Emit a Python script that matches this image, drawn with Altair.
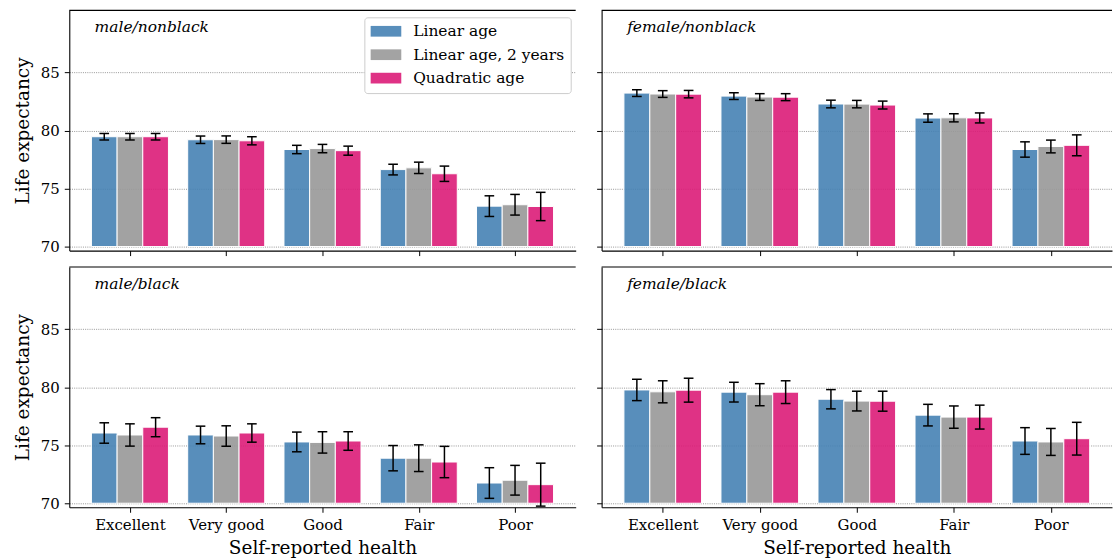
import altair as alt
import pandas as pd

# Categories, models and panel names
categories = ["Excellent", "Very good", "Good", "Fair", "Poor"]
models = ["Linear age", "Linear age, 2 years", "Quadratic age"]
colors = ["#4682b4", "#999999", "#dc1c78"]
panels = ["male/nonblack", "female/nonblack", "male/black", "female/black"]

# Life expectancy estimates and error half-widths, per panel and model
mn_linear = [79.46, 79.20, 78.36, 76.63, 73.48]
mn_linear_err = [0.28, 0.32, 0.36, 0.46, 0.89]
mn_2yr = [79.46, 79.21, 78.44, 76.78, 73.60]
mn_2yr_err = [0.28, 0.32, 0.36, 0.49, 0.89]
mn_quad = [79.46, 79.11, 78.26, 76.27, 73.45]
mn_quad_err = [0.28, 0.35, 0.39, 0.66, 1.22]

fn_linear = [83.22, 82.96, 82.28, 81.07, 78.36]
fn_linear_err = [0.29, 0.29, 0.33, 0.36, 0.66]
fn_2yr = [83.14, 82.88, 82.27, 81.09, 78.62]
fn_2yr_err = [0.29, 0.29, 0.32, 0.35, 0.55]
fn_quad = [83.13, 82.87, 82.19, 81.08, 78.72]
fn_quad_err = [0.32, 0.30, 0.34, 0.43, 0.90]

mb_linear = [76.05, 75.88, 75.28, 73.88, 71.74]
mb_linear_err = [0.88, 0.76, 0.85, 1.09, 1.32]
mb_2yr = [75.88, 75.79, 75.24, 73.88, 71.98]
mb_2yr_err = [0.96, 0.88, 0.92, 1.15, 1.28]
mb_quad = [76.55, 76.05, 75.36, 73.55, 71.60]
mb_quad_err = [0.82, 0.79, 0.80, 1.35, 1.85]

fb_linear = [79.76, 79.57, 78.96, 77.59, 75.36]
fb_linear_err = [0.92, 0.85, 0.83, 0.93, 1.15]
fb_2yr = [79.60, 79.35, 78.80, 77.42, 75.28]
fb_2yr_err = [0.95, 0.95, 0.85, 0.96, 1.16]
fb_quad = [79.74, 79.57, 78.79, 77.42, 75.56]
fb_quad_err = [1.03, 0.98, 0.86, 1.03, 1.41]

y_ticks = [70, 75, 80, 85]
BAR_BASE = 70

series = {
    "male/nonblack": [(mn_linear, mn_linear_err), (mn_2yr, mn_2yr_err), (mn_quad, mn_quad_err)],
    "female/nonblack": [(fn_linear, fn_linear_err), (fn_2yr, fn_2yr_err), (fn_quad, fn_quad_err)],
    "male/black": [(mb_linear, mb_linear_err), (mb_2yr, mb_2yr_err), (mb_quad, mb_quad_err)],
    "female/black": [(fb_linear, fb_linear_err), (fb_2yr, fb_2yr_err), (fb_quad, fb_quad_err)],
}

# Grouped bar geometry in category units
bw = 0.8 / len(models)
cap = 0.05
rows = []
for pname in panels:
    for m, (vals, errs) in enumerate(series[pname]):
        for i, (v, e) in enumerate(zip(vals, errs)):
            xc = i + (m - 1) * bw
            rows.append(dict(panel=pname, health=categories[i], model=models[m],
                             value=v, err=e, base=BAR_BASE,
                             x0=xc - bw / 2, x1=xc + bw / 2, xc=xc,
                             lo=v - e, hi=v + e, cl=xc - cap, cr=xc + cap))
df = pd.DataFrame(rows)
caps_df = df.melt(id_vars=["panel", "model", "cl", "cr", "xc"], value_vars=["lo", "hi"],
                  var_name="end", value_name="capy")

FONT = "DejaVu Serif"
label_expr = "[" + ",".join("'%s'" % c for c in categories) + "][datum.value]"

legend = alt.Legend(
    orient="none", legendX=296, legendY=7, title=None,
    symbolType="M-1,-0.7H3V0.7H-1Z", symbolSize=236, symbolStrokeWidth=0,
    symbolOpacity=0.9, labelFont=FONT, labelFontSize=15.5, labelColor="black",
    labelOffset=27, rowPadding=6.5, padding=6, labelLimit=300,
    strokeColor="#cccccc", fillColor="white", cornerRadius=3,
)


def panel(pname, row, col):
    w = 508 if col == 0 else 512
    h = 241
    bottom = row == 1
    left = col == 0
    xs = alt.Scale(domain=[-0.63, 4.63], nice=False, zero=False)
    ys = alt.Scale(domain=[69.65, 90.35], nice=False, zero=False)

    x_axis = alt.Axis(orient="bottom", values=list(range(len(categories))),
                      labelExpr=label_expr, labels=bottom, grid=False,
                      title="Self-reported health" if bottom else None,
                      labelPadding=5, titlePadding=6)
    y_axis = alt.Axis(orient="left", values=y_ticks, labels=left, grid=True,
                      gridColor="#8c8c8c", gridDash=[1, 1.2], gridWidth=0.9,
                      title="Life expectancy" if left else None,
                      labelPadding=5, titlePadding=8)

    d = df[df.panel == pname]
    c = caps_df[caps_df.panel == pname]

    bars = alt.Chart(d).mark_bar(opacity=0.9, stroke="white", strokeWidth=1,
                                 strokeOpacity=1).encode(
        x=alt.X("x0:Q", scale=xs, axis=x_axis),
        x2="x1:Q",
        y=alt.Y("value:Q", scale=ys, axis=y_axis),
        y2="base:Q",
        color=alt.Color("model:N", scale=alt.Scale(domain=models, range=colors),
                        legend=legend),
    )
    err = alt.Chart(d).mark_rule(color="black", strokeWidth=1.5).encode(
        x=alt.X("xc:Q", scale=xs, axis=x_axis),
        y=alt.Y("lo:Q", scale=ys, axis=y_axis),
        y2="hi:Q",
    )
    caps = alt.Chart(c).mark_rule(color="black", strokeWidth=1.5).encode(
        x=alt.X("cl:Q", scale=xs, axis=x_axis),
        x2="cr:Q",
        y=alt.Y("capy:Q", scale=ys, axis=y_axis),
    )
    # top spine of the panel frame
    top_spine = alt.Chart(pd.DataFrame({"k": [0]})).mark_rule(
        color="black", strokeWidth=1.1
    ).encode(x=alt.value(0), x2=alt.value(w), y=alt.value(0))
    label = alt.Chart(pd.DataFrame({"name": [pname]})).mark_text(
        align="left", baseline="alphabetic", font=FONT, fontStyle="italic",
        fontSize=15.5, color="black",
    ).encode(text="name:N", x=alt.value(0.05 * w), y=alt.value(22))

    return alt.layer(bars, err, caps, top_spine, label).properties(width=w, height=h)


top = alt.hconcat(panel(panels[0], 0, 0), panel(panels[1], 0, 1), spacing=19).resolve_scale(
    x="independent", y="independent")
bottom = alt.hconcat(panel(panels[2], 1, 0), panel(panels[3], 1, 1), spacing=19).resolve_scale(
    x="independent", y="independent")

chart = alt.vconcat(top, bottom, spacing=9.5).resolve_scale(
    x="independent", y="independent"
).properties(
    padding={"left": 12.5, "top": 8.5, "right": 0, "bottom": 0}
).configure_view(
    strokeWidth=0
).configure_axis(
    labelFont=FONT, labelFontSize=15, labelColor="black",
    titleFont=FONT, titleFontSize=18.5, titleFontWeight="normal", titleColor="black",
    tickColor="black", tickSize=5, tickWidth=1,
    domainColor="black", domainWidth=1.1,
)

chart.save("out.html", embed_options={"renderer": "svg", "actions": False})
